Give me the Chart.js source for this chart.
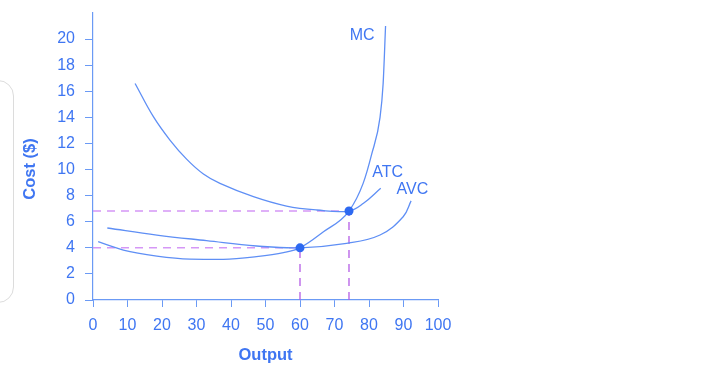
<!DOCTYPE html>
<html>
<head>
<meta charset="utf-8">
<script src="https://cdn.jsdelivr.net/npm/chart.js@4/dist/chart.umd.min.js"></script>
<style>
  html, body { margin: 0; padding: 0; background: #ffffff; overflow: hidden; }
  #wrap { position: relative; width: 720px; height: 369px; }
  #panel { position: absolute; left: -22px; top: 80px; width: 34px; height: 221px;
           border: 1px solid #dcdcdc; border-radius: 16px; background: #fff; }
  canvas { position: absolute; left: 0; top: 0; }
</style>
</head>
<body>
<div id="wrap">
  <div id="panel"></div>
  <canvas id="c" width="720" height="369"></canvas>
</div>
<script>
// ---- data ----
const xTicks = [0, 10, 20, 30, 40, 50, 60, 70, 80, 90, 100];
const yTicks = [0, 2, 4, 6, 8, 10, 12, 14, 16, 18, 20];

const mcX  = [1.5, 8.8, 18.5, 28.1, 37.8, 47.4, 55.2, 60, 66.8, 74.2, 78.3, 80.8, 83.2, 84.1, 84.8];
const mcY  = [4.47, 3.83, 3.37, 3.14, 3.12, 3.32, 3.63, 4.0, 5.23, 6.82, 8.94, 11.2, 14.0, 16.6, 21.0];

const atcX = [12.2, 17.5, 22.3, 27.2, 32.0, 36.8, 46.5, 56.1, 64.8, 74.2, 78.4, 83.4];
const atcY = [16.6, 14.05, 12.26, 10.78, 9.66, 8.94, 7.92, 7.2, 6.9, 6.82, 7.41, 8.56];

const avcX = [4.15, 18.5, 32.9, 47.4, 60, 73.5, 83.2, 89.9, 92.2];
const avcY = [5.52, 4.98, 4.55, 4.14, 4.0, 4.34, 4.98, 6.38, 7.6];

const dotX = [60, 74.2];
const dotY = [4.0, 6.82];

const curveNames = ["MC", "ATC", "AVC"];
const labelX = [78.0, 85.4, 92.6];
const labelY = [20.25, 9.75, 8.5];

const xTitle = "Output";
const yTitle = "Cost ($)";

// ---- styles ----
const FONT = "'Liberation Sans', Arial, sans-serif";
const TEXT = "#3f76f2";
const AXIS = "#6b9af5";
const CURVE = "#5f8ff5";
const DOT = "#2d69f1";
const HDASH = "rgba(208,140,245,0.9)";
const VDASH = "#b45ce6";

const pts = (xs, ys) => xs.map((x, i) => ({ x: x, y: ys[i] }));

function curve(xs, ys, mono) {
  const d = { type: 'line', data: pts(xs, ys), borderColor: CURVE, borderWidth: 1.3,
           pointRadius: 0, fill: false, tension: 0.4, order: 1 };
  if (mono) d.cubicInterpolationMode = 'monotone';
  return d;
}
function dash(data, color, w) {
  return { type: 'line', data: data, borderColor: color, borderWidth: w, borderDash: [8, 6],
           pointRadius: 0, fill: false, tension: 0, order: 2 };
}

const datasets = [
  dash([{ x: 0, y: dotY[1] }, { x: dotX[1], y: dotY[1] }], HDASH, 1.5),
  dash([{ x: 0, y: dotY[0] }, { x: dotX[0], y: dotY[0] }], HDASH, 1.5),
  dash([{ x: dotX[1], y: 0 }, { x: dotX[1], y: dotY[1] }], VDASH, 1.3),
  dash([{ x: dotX[0], y: 0 }, { x: dotX[0], y: dotY[0] }], VDASH, 1.3),
  curve(mcX, mcY, true),
  curve(atcX, atcY, false),
  curve(avcX, avcY, false),
  { type: 'scatter', data: pts(dotX, dotY), backgroundColor: DOT, borderColor: DOT,
    pointRadius: 4.5, pointBorderWidth: 0, showLine: false, order: 0 }
];

const textPlugin = {
  id: 'texts',
  afterDatasetsDraw(chart) {
    const ctx = chart.ctx, xs = chart.scales.x, ys = chart.scales.y, ca = chart.chartArea;
    ctx.save();
    ctx.fillStyle = TEXT;
    ctx.textAlign = 'center';
    ctx.textBaseline = 'middle';
    ctx.font = "16px " + FONT;
    curveNames.forEach((n, i) => {
      ctx.fillText(n, xs.getPixelForValue(labelX[i]), ys.getPixelForValue(labelY[i]));
    });
    ctx.font = "bold 16.5px " + FONT;
    ctx.fillText(xTitle, (ca.left + ca.right) / 2, ca.bottom + 55);
    ctx.translate(30, ca.bottom - 131);
    ctx.rotate(-Math.PI / 2);
    ctx.fillText(yTitle, 0, 0);
    ctx.restore();
  }
};

new Chart(document.getElementById('c'), {
  data: { datasets: datasets },
  options: {
    responsive: false,
    animation: false,
    events: [],
    layout: { padding: { left: 0, right: 282, top: 13, bottom: 0 } },
    plugins: { legend: { display: false }, tooltip: { enabled: false } },
    scales: {
      x: {
        type: 'linear', min: 0, max: 100,
        afterBuildTicks: s => { s.ticks = xTicks.map(v => ({ value: v })); },
        afterFit: s => { s.height = 69; s.paddingLeft = 0; s.paddingRight = 0; },
        ticks: { color: TEXT, font: { size: 16, family: FONT }, padding: 9, maxRotation: 0 },
        grid: { drawOnChartArea: false, drawTicks: true, tickLength: 7, color: AXIS, lineWidth: 1 },
        border: { display: true, color: AXIS, width: 1.2 }
      },
      y: {
        type: 'linear', min: 0, max: 22,
        afterBuildTicks: s => { s.ticks = yTicks.map(v => ({ value: v })); },
        afterFit: s => { s.width = 93; s.paddingTop = 0; s.paddingBottom = 0; },
        ticks: { color: TEXT, font: { size: 16, family: FONT }, padding: 10 },
        grid: { drawOnChartArea: false, drawTicks: true, tickLength: 8, color: AXIS, lineWidth: 1 },
        border: { display: true, color: AXIS, width: 1.2 }
      }
    }
  },
  plugins: [textPlugin]
});
</script>
</body>
</html>
